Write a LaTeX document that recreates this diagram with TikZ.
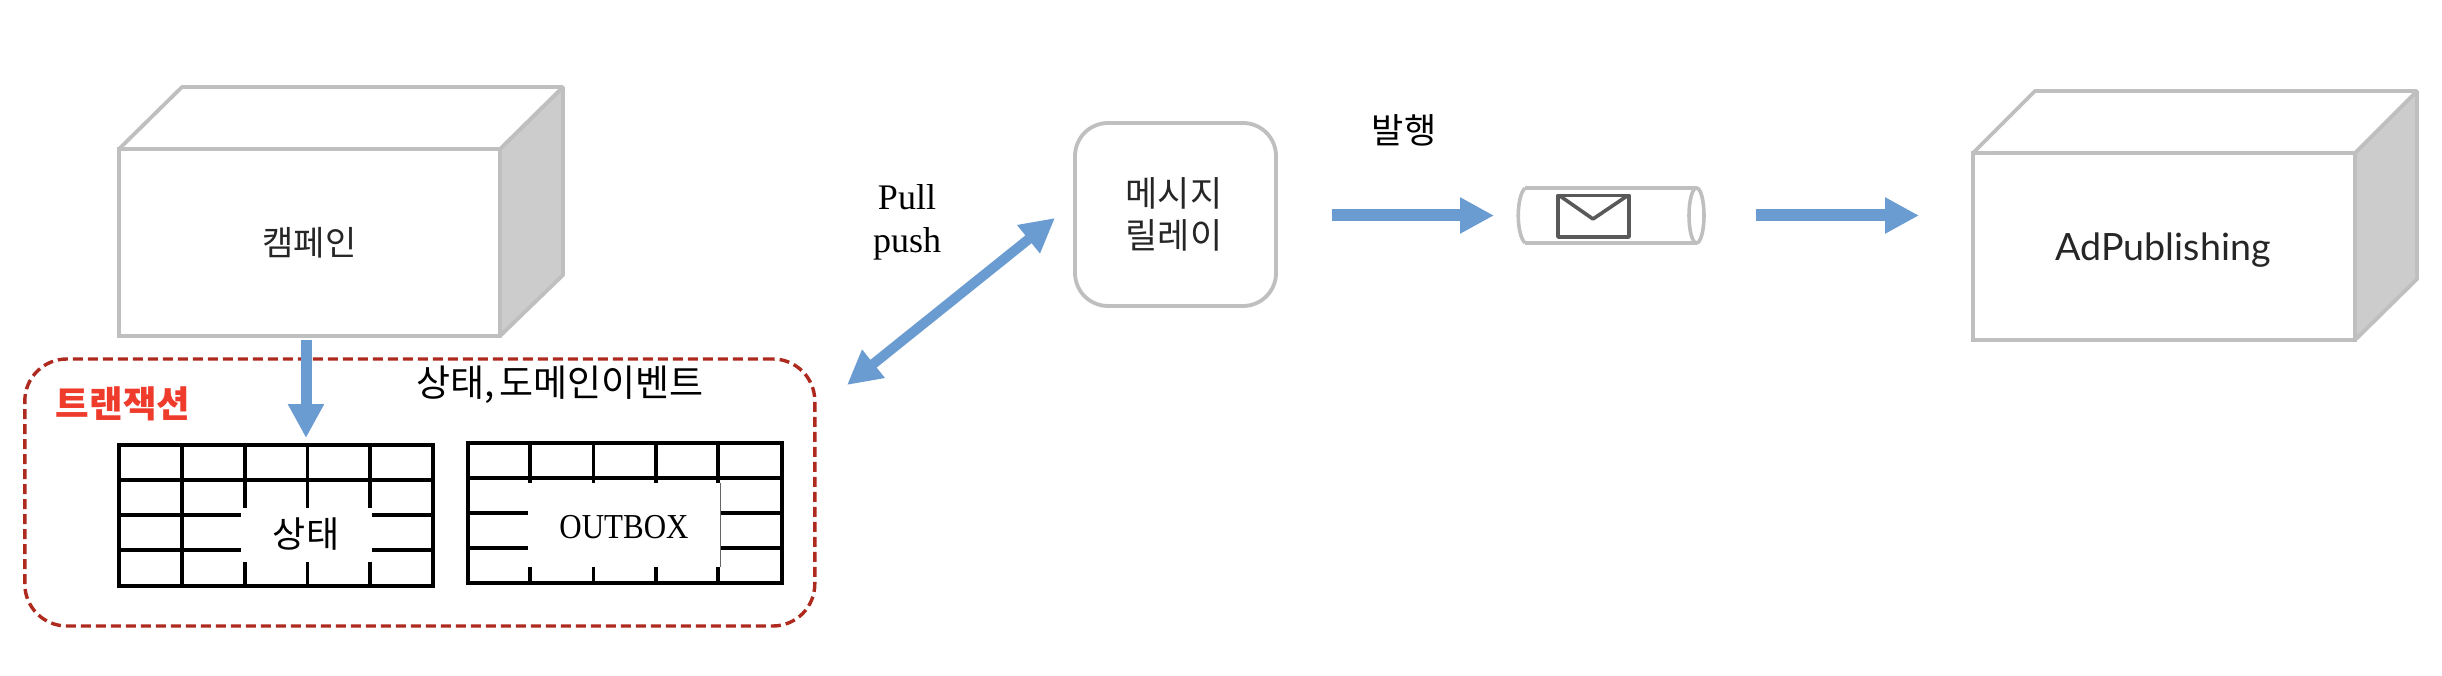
\documentclass[tikz,border=0pt]{standalone}
\usepackage{fontspec}
\setmainfont{Liberation Serif}
\newfontfamily\kr{Noto Sans CJK KR}
\newfontfamily\latin{Lato}
\usetikzlibrary{arrows.meta}
\definecolor{edgegray}{HTML}{BFBFBF}
\definecolor{sidegray}{HTML}{CCCCCC}
\definecolor{flowblue}{HTML}{6A9BD1}
\definecolor{txdark}{HTML}{AE2A1E}
\definecolor{txred}{HTML}{EE3B2B}
\definecolor{inkdark}{HTML}{262626}
\definecolor{envgray}{HTML}{595959}
\tikzset{
  x=1pt,y=-1pt,
  front/.style={draw=edgegray,line width=3.8pt,fill=white,inner sep=0pt,outer sep=0pt,text=inkdark,font=\kr\fontsize{34}{38}\selectfont},
  side/.style={draw=edgegray,line width=3.8pt,fill=sidegray,line join=bevel},
  top/.style={draw=edgegray,line width=3.8pt,fill=white,line join=bevel},
  flow/.style={draw=flowblue,line width=12pt,-{Triangle[length=34pt,width=34pt]}},
  flowboth/.style={draw=flowblue,line width=10pt,{Triangle[length=34pt,width=34pt]}-{Triangle[length=34pt,width=34pt]}},
  gridline/.style={draw=black,line width=3.8pt},
  gridbox/.style={draw=black,line width=3.8pt,inner sep=0pt,outer sep=0pt},
  krlabel/.style={inner sep=0pt,font=\kr\fontsize{36}{40}\selectfont,text=black},
  serif/.style={inner sep=0pt,font=\fontsize{36}{43}\selectfont,text=black,align=center},
}
\begin{document}
\begin{tikzpicture}
\useasboundingbox (0,0) rectangle (2442,676);
% campaign cuboid
\draw[side] (500,149) -- (563,87) -- (563,275) -- (500,336) -- cycle;
\draw[top] (119,149) -- (182,87) -- (563,87) -- (500,149) -- cycle;
\node[front,minimum width=381pt,minimum height=187pt] (camp) at (309.5,242.5) {캠페인};
% adpublishing cuboid
\draw[side] (2355,153) -- (2417,91) -- (2417,279) -- (2355,340) -- cycle;
\draw[top] (1973,153) -- (2035,91) -- (2417,91) -- (2355,153) -- cycle;
\node[front,minimum width=382pt,minimum height=187pt] (adpub) at (2164,246.5) {};
\node[inner sep=0pt,text=inkdark,font=\latin\fontsize{37.6}{44}\selectfont] (adtext) at (2163,250) {AdPublishing};
% transaction region
\node[draw=txdark,line width=3.4pt,dash pattern=on 10pt off 5pt,rounded corners=42pt,inner sep=0pt,outer sep=0pt,minimum width=790pt,minimum height=267pt] (tx) at (419.8,492.5) {};
\node[inner sep=0pt,font=\kr\bfseries\fontsize{36.5}{40}\selectfont,text=txred] (txlabel) at (123,404) {트랜잭션};
\node[krlabel,font=\kr\fontsize{37}{40}\selectfont] (evlabel) at (560,385) {상태,\hspace{-3pt} 도메인이벤트};
% state table
\node[gridbox,minimum width=314pt,minimum height=141pt] (stategrid) at (276,515.5) {};
\foreach \x in {182,245,307.5,369.6}{
  \draw[gridline] (\x,480) -- (\x,508);
  \draw[gridline] (\x,445) -- (\x,480);
  \draw[gridline] (\x,562) -- (\x,586);
}
\draw[gridline] (182,508) -- (182,562);
\draw[gridline] (119,480) -- (433,480);
\draw[gridline] (119,515) -- (241,515);
\draw[gridline] (372,515) -- (433,515);
\draw[gridline] (119,550) -- (241,550);
\draw[gridline] (372,550) -- (433,550);
\node[krlabel] (statetext) at (306,534) {상태};
% outbox table
\node[gridbox,minimum width=314.4pt,minimum height=140pt] (outgrid) at (624.8,513) {};
\foreach \x in {530,593.5,655.6,718}{
  \draw[gridline] (\x,443) -- (\x,483);
  \draw[gridline] (\x,567) -- (\x,583);
}
\draw[gridline] (467.6,478) -- (782,478);
\draw[gridline] (467.6,513) -- (527.6,513);
\draw[gridline] (720.4,513) -- (782,513);
\draw[gridline] (467.6,548) -- (527.6,548);
\draw[gridline] (720.4,548) -- (782,548);
\draw[draw=black!60,line width=.8pt] (720,483) -- (720,567);
\node[serif,font=\fontsize{35}{40}\selectfont,xscale=.885,transform shape] (outtext) at (624,527) {OUTBOX};
% relay
\node[front,rounded corners=33pt,minimum width=201pt,minimum height=183pt] (relay) at (1175.5,214.5) {};
\node[inner sep=0pt,align=center,text=inkdark,font=\kr\fontsize{35}{42}\selectfont] (relaytext) at (1174,214) {메시지\\릴레이};
\node[serif] (pull) at (907,222) {Pull\\push};
\node[krlabel,font=\kr\fontsize{35}{40}\selectfont] (pub) at (1404,130) {발행};
% tube
\node[minimum width=186pt,minimum height=55pt,inner sep=0pt,outer sep=0pt] (tube) at (1611,215.5) {};
\draw[draw=edgegray,line width=3.6pt] (1525,188) -- (1696.5,188) (1525,243) -- (1696.5,243);
\draw[draw=edgegray,line width=3.6pt] (1525,188) .. controls (1516,197) and (1516,234) .. (1525,243);
\draw[draw=edgegray,line width=3.6pt] (1696.5,215.5) ellipse [x radius=7.5,y radius=27.5];
\draw[draw=envgray,line width=3.6pt,line join=round] (1558,195.5) rectangle (1629,237);
\draw[draw=envgray,line width=3.6pt,line join=round] (1560,196) -- (1593,219) -- (1627,196);
% connectors
\draw[flow,line width=11pt,shorten <=4pt,shorten >=7pt] (camp.south -| statetext) -- (stategrid.north -| statetext);
\coordinate (dbl1) at (847,385);
\coordinate (dbl2) at (1055,218);
\draw[flowboth] (dbl1) -- (dbl2);
\draw[flow,shorten <=56pt,shorten >=24pt] (relay.east |- tube) -- (tube.west);
\draw[flow,shorten <=52pt,shorten >=54pt] (tube.east) -- (adpub.west |- tube);
\end{tikzpicture}
\end{document}
